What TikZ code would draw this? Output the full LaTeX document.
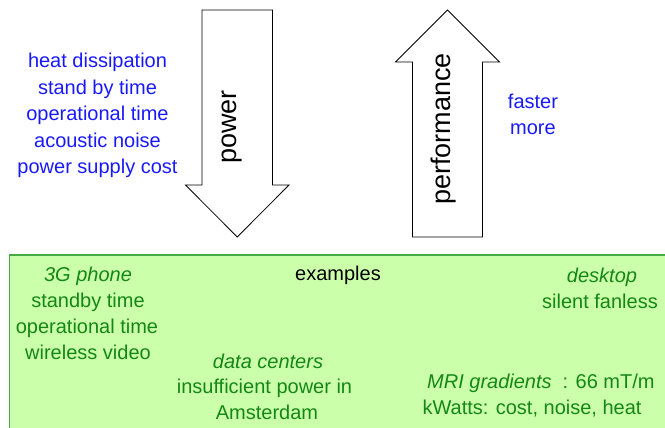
\documentclass[tikz,border=0pt]{standalone}
\usepackage{fontspec}
\setmainfont{Liberation Sans}
\definecolor{tblue}{RGB}{25,25,255}
\definecolor{tgreen}{RGB}{20,135,20}
\definecolor{boxfill}{RGB}{204,255,170}
\definecolor{boxdraw}{RGB}{70,170,70}
\begin{document}
\begin{tikzpicture}[x=1pt,y=-1pt,
  txt/.style={inner sep=0pt, anchor=base, font=\fontsize{20}{24}\selectfont},
  bl/.style={txt, text=tblue},
  gr/.style={txt, text=tgreen},
  bigtxt/.style={inner sep=0pt, rotate=90, font=\fontsize{27}{32}\selectfont},
  arrowbox/.style={draw=black, line width=0.8pt, fill=white, line join=miter}]
\useasboundingbox (0,0) rectangle (665,428);
\clip (0,0) rectangle (665,428);
% green examples box
\draw[fill=boxfill, draw=boxdraw, line width=1.3pt] (9.5,255) rectangle (680,440);
% arrows
\draw[arrowbox] (202,10) -- (272.5,10) -- (272.5,185) -- (289,185) -- (237.25,237) -- (185.5,185) -- (202,185) -- cycle;
\draw[arrowbox] (447.5,10) -- (499.5,62) -- (482.5,62) -- (482.5,237) -- (412.5,237) -- (412.5,62) -- (395.5,62) -- cycle;
\node[bigtxt] (pow) at (232,127) {power};
\node[bigtxt] (perf) at (443.5,129) {performance};
% blue lists
\node[bl] (b1) at (97.5,67.7) {heat dissipation};
\node[bl] (b2) at (97.5,94.3) {stand by time};
\node[bl] (b3) at (97.5,120.7) {operational time};
\node[bl] (b4) at (97.5,147.3) {acoustic noise};
\node[bl] (b5) at (97.5,174) {power supply cost};
\node[bl] (f1) at (533,108.3) {faster};
\node[bl] (f2) at (533,135) {more};
% examples
\node[txt] (ex) at (338,280) {examples};
\node[gr] (g1) at (88,281) {\itshape 3G phone};
\node[gr] (g2) at (88,307) {standby time};
\node[gr] (g3) at (87,333) {operational time};
\node[gr] (g4) at (88,359) {wireless video};
\node[gr] (d1) at (602,282) {\itshape desktop};
\node[gr] (d2) at (600,308) {silent fanless};
\node[gr] (c1) at (268,368) {\itshape data centers};
\node[gr] (c2) at (264.5,393.5) {insufficient power in};
\node[gr] (c3) at (267,419) {Amsterdam};
\node[gr, anchor=base west] (m1) at (427,388) {\itshape MRI gradients\upshape\hspace{11pt}: 66 mT/m};
\node[gr] (m2) at (532,414) {kWatts: cost, noise, heat};
\end{tikzpicture}
\end{document}
